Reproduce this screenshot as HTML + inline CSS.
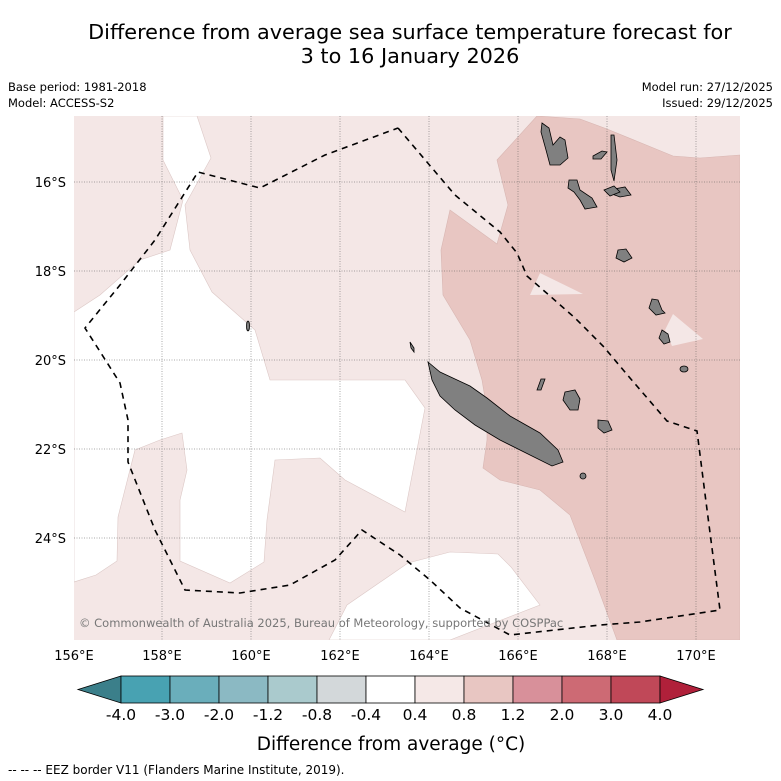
<!DOCTYPE html>
<html><head><meta charset="utf-8"><style>
body{margin:0;background:#fff;font-family:"DejaVu Sans","Liberation Sans",sans-serif;}
svg{display:block}
</style></head><body>
<svg width="781" height="781" viewBox="0 0 781 781" xmlns="http://www.w3.org/2000/svg" font-family="DejaVu Sans, Liberation Sans, sans-serif">
<text x="410" y="39" font-size="20.8" text-anchor="middle">Difference from average sea surface temperature forecast for</text>
<text x="410" y="63" font-size="20.8" text-anchor="middle">3 to 16 January 2026</text>
<text x="8" y="91" font-size="11.5">Base period: 1981-2018</text>
<text x="8" y="107" font-size="11.5">Model: ACCESS-S2</text>
<text x="773" y="91" font-size="11.5" text-anchor="end">Model run: 27/12/2025</text>
<text x="773" y="107" font-size="11.5" text-anchor="end">Issued: 29/12/2025</text>
<defs><clipPath id="mc"><rect x="74" y="116" width="666" height="524"/></clipPath></defs>
<g id="map" clip-path="url(#mc)">
<rect x="74" y="116" width="666" height="524" fill="#f4e7e6"/>
<polygon fill="#fff" stroke="#dcc8c6" stroke-width="0.6" points="163,116 197,116 211,158 185,205 190,250 212,292 255,330 270,380 405,380 425,408 405,512 345,480 320,458 275,460 267,520 264,562 230,583 180,561 180,500 187,470 182,433 160,440 135,450 118,517 117,561 96,575 74,582 74,312 100,295 140,260 170,250 183,200 163,160"/>
<polygon fill="#fff" stroke="#dcc8c6" stroke-width="0.6" points="329,640 347,605 408,563 450,552 498,554 511,567 540,605 450,640"/>
<polygon fill="#e8c6c2" stroke="#d8b6b2" stroke-width="0.6" points="537,116 580,119 607,129 673,156 700,158 740,155 740,640 617,640 595,580 570,515 540,490 500,480 483,468 487,440 487,410 482,380 470,340 443,295 441,250 450,210 497,244 508,205 497,160"/>
<polygon fill="#f4e7e6" points="540,273 583,294 530,295"/>
<polygon fill="#f4e7e6" points="673,314 703,339 672,346 665,330"/>
<g stroke="#555" stroke-width="0.5" stroke-dasharray="1,1.5">
<line x1="162" y1="116" x2="162" y2="640"/><line x1="251" y1="116" x2="251" y2="640"/><line x1="340" y1="116" x2="340" y2="640"/><line x1="429" y1="116" x2="429" y2="640"/><line x1="518" y1="116" x2="518" y2="640"/><line x1="607" y1="116" x2="607" y2="640"/><line x1="696" y1="116" x2="696" y2="640"/>
<line x1="74" y1="182" x2="740" y2="182"/><line x1="74" y1="271" x2="740" y2="271"/><line x1="74" y1="360" x2="740" y2="360"/><line x1="74" y1="449" x2="740" y2="449"/><line x1="74" y1="538" x2="740" y2="538"/>
</g>
<g fill="#808080" stroke="#000" stroke-width="0.8">
<polygon points="428,362 440,372 470,386 487,398 510,416 540,433 558,450 563,462 552,466 530,455 500,440 475,425 455,410 440,396 432,380"/>
<polygon points="542,123 549,128 553,145 560,137 565,140 568,158 560,165 550,165 546,150 541,132"/>
<polygon points="569,180 577,180 580,190 592,198 597,207 585,209 580,200 574,192 568,188"/>
<polygon points="614,189 625,187 631,195 620,197 612,194"/>
<polygon points="618,250 626,249 632,258 624,262 616,258"/>
<polygon points="652,299 658,300 662,310 665,313 656,315 649,308"/>
<polygon points="662,330 668,334 670,342 664,344 659,338"/>
<polygon points="611,135 614,135 617,160 614,181 611,170"/>
<polygon points="593,156 602,151 607,152 601,159 593,159"/>
<polygon points="604,190 614,186 620,192 610,196"/>
<ellipse cx="684" cy="369" rx="4" ry="3"/>
<polygon points="565,392 575,390 580,399 578,410 570,410 563,400"/>
<polygon points="598,420 608,421 612,430 604,433 598,428"/>
<polygon points="537,390 541,379 545,379 541,390"/>
<ellipse cx="583" cy="476" rx="3" ry="3"/>
<ellipse cx="248" cy="326" rx="1.5" ry="5"/>
<polygon points="410,342 414,348 414,352 411,348"/>
</g>
<polyline fill="none" stroke="#000" stroke-width="1.6" stroke-dasharray="6,5" points="398,128 455,195 500,232 517,253 527,276 550,296 575,318 603,346 630,378 667,421 697,431 705,494 720,610 640,622 600,625 510,635 460,608 430,580 400,555 362,530 335,560 290,585 240,593 185,590 155,530 128,462 128,420 120,383 85,328 120,285 155,240 198,172 260,188 325,155 398,128"/>
<text x="79" y="627" font-size="11.5" fill="#777">© Commonwealth of Australia 2025, Bureau of Meteorology, supported by COSPPac</text>
</g>
<g font-size="13">
<text x="66" y="187" text-anchor="end">16°S</text><text x="66" y="276" text-anchor="end">18°S</text><text x="66" y="365" text-anchor="end">20°S</text><text x="66" y="454" text-anchor="end">22°S</text><text x="66" y="543" text-anchor="end">24°S</text>
</g>
<g font-size="13" text-anchor="middle">
<text x="74" y="660">156°E</text><text x="162" y="660">158°E</text><text x="251" y="660">160°E</text><text x="340" y="660">162°E</text><text x="429" y="660">164°E</text><text x="518" y="660">166°E</text><text x="607" y="660">168°E</text><text x="696" y="660">170°E</text>
</g>
<g id="cbar" stroke="#000" stroke-width="0.8"></g>
<g id="cbl" font-size="15.5" text-anchor="middle"></g>
<text x="391" y="750" font-size="18.5" text-anchor="middle">Difference from average (°C)</text>
<text x="8" y="774" font-size="12">--  --  -- EEZ border V11 (Flanders Marine Institute, 2019).</text>
</svg>
<script>
const levels=["-4.0","-3.0","-2.0","-1.2","-0.8","-0.4","0.4","0.8","1.2","2.0","3.0","4.0"];
const colors=["#48a2b2","#6aaebb","#8bb9c3","#aacacd","#d3d8da","#ffffff","#f5e8e7","#e8c6c2","#d8909a","#cd6a74","#c04858"];
const x0=121,w=49,y0=676,h=27,NS="http://www.w3.org/2000/svg";
const g=document.getElementById('cbar'),gl=document.getElementById('cbl');
const lt=document.createElementNS(NS,'polygon');
lt.setAttribute('points',`${x0},${y0} 78,${y0+h/2} ${x0},${y0+h}`);lt.setAttribute('fill','#3b7f8a');


g.appendChild(lt);
colors.forEach((c,i)=>{const r=document.createElementNS(NS,'rect');
r.setAttribute('x',x0+i*w);r.setAttribute('y',y0);r.setAttribute('width',w);r.setAttribute('height',h);r.setAttribute('fill',c);


g.appendChild(r);});
const rt=document.createElementNS(NS,'polygon');const xe=x0+colors.length*w;
rt.setAttribute('points',`${xe},${y0} 703,${y0+h/2} ${xe},${y0+h}`);rt.setAttribute('fill','#b0203a');


g.appendChild(rt);
levels.forEach((l,i)=>{const t=document.createElementNS(NS,'text');t.setAttribute('x',x0+i*w);t.setAttribute('y',720);t.textContent=l;


gl.appendChild(t);});
</script>
</body></html>
